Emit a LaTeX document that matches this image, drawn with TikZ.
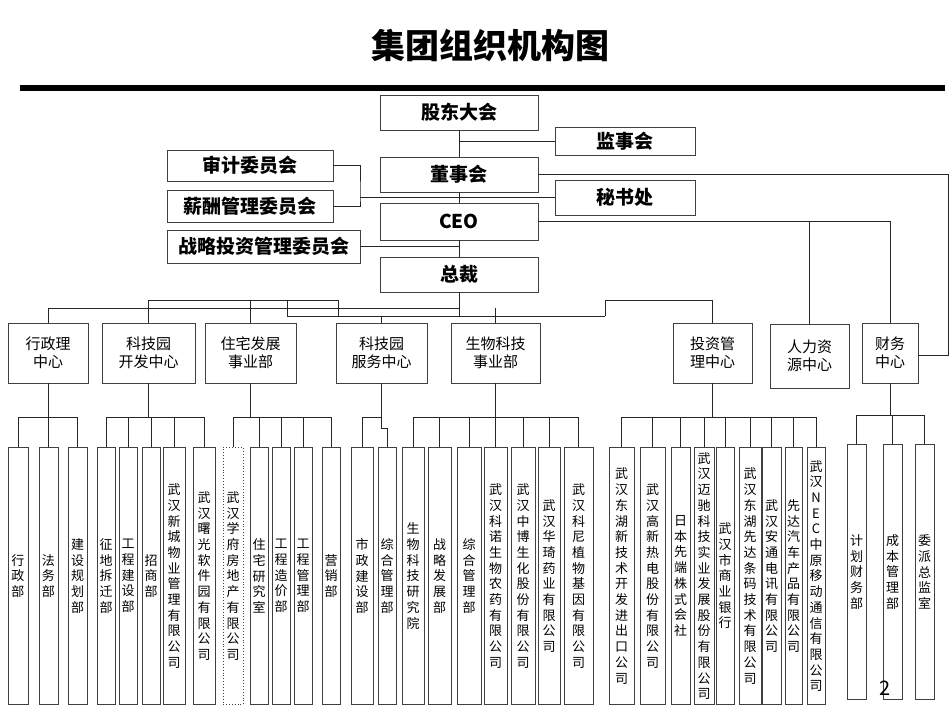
\documentclass[tikz,border=0pt]{standalone}
\usepackage{fontspec}
\setmainfont{Noto Sans CJK SC}
\usetikzlibrary{positioning}
\tikzset{
  topbox/.style={draw=black!75, line width=0.9pt, inner sep=0pt, font=\fontsize{19}{22}\selectfont\bfseries},
  midbox/.style={draw=black!75, line width=0.9pt, inner sep=0pt, align=center, font=\fontsize{15}{18}\selectfont},
  subbox/.style={draw=black!75, line width=0.9pt, inner sep=0pt, text width=14pt, align=center, font=\fontsize{13}{15.7}\selectfont},
  link/.style={draw=black!85, line width=0.9pt}
}
\begin{document}
\begin{tikzpicture}[x=1pt,y=-1pt]
  \useasboundingbox (0,0) rectangle (950,713);
  \node[font=\fontsize{34}{38}\selectfont\bfseries] (title) at (490,45) {集团组织机构图};
  \fill (20,85) rectangle (945,91);

  % top levels
  \foreach \n/\a/\b/\c/\d/\t in {gd/380/95/538/130/股东大会, jsh/555/127/695/155/监事会,
      dsh/380/157/538/192/董事会, msc/555/180/695/215/秘书处, ceo/380/203/538/240/CEO,
      zc/380/257/538/292/总裁, sj/167/150/333/181/审计委员会, xc/167/190/333/222/薪酬管理委员会,
      zl/167/230/360/263/战略投资管理委员会}
    \node[topbox, minimum width={(\c-\a)*1pt}, minimum height={(\d-\b)*1pt}] (\n) at ({(\a+\c)/2},{(\b+\d)/2}) {\t};

  % centres
  \foreach \n/\a/\b/\t in {xzl/8/88/{行政理\\中心}, kjy/102/195/{科技园\\开发中心}, zz/205/296/{住宅发展\\事业部},
      kfw/336/427/{科技园\\服务中心}, sw/451/540/{生物科技\\事业部}, tz/673/752/{投资管\\理中心},
      cw/862/918/{财务\\中心}}
    \node[midbox, minimum width={(\b-\a)*1pt}, minimum height=60pt] (\n) at ({(\a+\b)/2},353) {\t};
  \node[midbox, minimum width=79pt, minimum height=64pt] (rl) at (809.5,356) {人力资\\源中心};

  % departments
  \foreach \n/\a/\b/\t in {
      a1/8/28/{行\\政\\部}, a2/39/58/{法\\务\\部}, a3/68/87/{建\\设\\规\\划\\部},
      b1/97/115/{征\\地\\拆\\迁\\部}, b2/119/137/{工\\程\\建\\设\\部}, b3/142/160/{招\\商\\部},
      b4/163/185/{武\\汉\\新\\城\\物\\业\\管\\理\\有\\限\\公\\司}, b5/193/215/{武\\汉\\曙\\光\\软\\件\\园\\有\\限\\公\\司},
      c2/250/268/{住\\宅\\研\\究\\室}, c3/272/290/{工\\程\\造\\价\\部}, c4/294/312/{工\\程\\管\\理\\部}, c5/322/340/{营\\销\\部},
      d1/351/373/{市\\政\\建\\设\\部}, d2/378/396/{综\\合\\管\\理\\部},
      e1/402/424/{生\\物\\科\\技\\研\\究\\院}, e2/428/451/{战\\略\\发\\展\\部}, e3/457/481/{综\\合\\管\\理\\部},
      e4/484/507/{武\\汉\\科\\诺\\生\\物\\农\\药\\有\\限\\公\\司}, e5/511/535/{武\\汉\\中\\博\\生\\化\\股\\份\\有\\限\\公\\司},
      e6/538/560/{武\\汉\\华\\琦\\药\\业\\有\\限\\公\\司}, e7/564/593/{武\\汉\\科\\尼\\植\\物\\基\\因\\有\\限\\公\\司},
      f1/609/634/{武\\汉\\东\\湖\\新\\技\\术\\开\\发\\进\\出\\口\\公\\司}, f2/640/665/{武\\汉\\高\\新\\热\\电\\股\\份\\有\\限\\公\\司},
      f3/671/690/{日\\本\\先\\端\\株\\式\\会\\社}, f4/694/714/{武\\汉\\迈\\驰\\科\\技\\实\\业\\发\\展\\股\\份\\有\\限\\公\\司},
      f5/716/734/{武\\汉\\市\\商\\业\\银\\行}, f6/739/761/{武\\汉\\东\\湖\\先\\达\\条\\码\\技\\术\\有\\限\\公\\司},
      f7/762/781/{武\\汉\\安\\通\\电\\讯\\有\\限\\公\\司}, f8/785/802/{先\\达\\汽\\车\\产\\品\\有\\限\\公\\司},
      f9/807/825/{武\\汉\\N\\E\\C\\中\\原\\移\\动\\通\\信\\有\\限\\公\\司}}
    \node[subbox, minimum width={(\b-\a)*1pt}, minimum height=257pt] (\n) at ({(\a+\b)/2},576) {\t};
  \node[subbox, dotted, minimum width=20pt, minimum height=257pt] (c1) at (233,576) {武\\汉\\学\\府\\房\\地\\产\\有\\限\\公\\司};
  \foreach \n/\a/\b/\t in {g1/847/866/{计\\划\\财\\务\\部}, g2/883/902/{成\\本\\管\\理\\部}, g3/915/934/{委\\派\\总\\监\\室}}
    \node[subbox, minimum width={(\b-\a)*1pt}, minimum height=255pt] (\n) at ({(\a+\b)/2},572) {\t};

  % upper links
  \draw[link] (gd) -- (dsh) (dsh) -- (ceo) (ceo) -- (zc);
  \draw[link] (jsh.west) -- (jsh.west -| gd.south);
  \coordinate (mid) at (360,197);
  \draw[link] (sj.east) -| (mid) |- (xc.east);
  \draw[link] (mid) -- (msc.west |- mid);
  \draw[link] (zl.east) -- (zl.east -| ceo.south);
  \coordinate (rt) at (948,355);
  \draw[link] (dsh.east) -| (rt) -- (cw.east |- rt);
  \draw[link] (ceo.east) -| (cw.north);
  \draw[link] (rl.north) -- (rl.north |- ceo.east);

  % links to centres
  \draw[link] (zc.south) -- (459,316);
  \draw[link] (xzl.north) |- (459,308);
  \draw[link] (kjy.north) |- (338,300) -- (338,316);
  \draw[link] (zz.north) -- (zz.north |- 0,300);
  \draw[link] (287,300) -- (287,316) -- (605,316);
  \draw[link] (kfw.north) -- (kfw.north |- 0,316);
  \draw[link] (sw.north) -- (sw.north |- 0,308);
  \draw[link] (605,316) -- (605,300) -| (tz.north);

  % links to departments
  \foreach \p/\f/\l/\all in {xzl/a1/a3/{a1,a2,a3}, kjy/b1/b5/{b1,b2,b3,b4,b5}, zz/c1/c5/{c1,c2,c3,c4,c5},
      sw/e1/e7/{e1,e2,e3,e4,e5,e6,e7}, tz/f1/f9/{f1,f2,f3,f4,f5,f6,f7,f8,f9}} {
    \draw[link] (\p.south) -- (\p.south |- 0,417);
    \draw[link] (\f.north |- 0,417) -- (\l.north |- 0,417);
    \foreach \k in \all
      \draw[link] (\k.north) -- (\k.north |- 0,417);
  }
  \draw[link] (kfw.south) -- (kfw.south |- 0,428) -| (d2.north);
  \draw[link] (d1.north) |- (kfw.south |- 0,417);
  \draw[link] (cw.south) -- (cw.south |- 0,415);
  \draw[link] (g1.north) |- (g3.north |- 0,415) -- (g3.north);
  \draw[link] (g2.north) -- (g2.north |- 0,415);

  \node[font=\fontsize{20}{22}\selectfont] (pg) at (885,688) {2};
\end{tikzpicture}
\end{document}
